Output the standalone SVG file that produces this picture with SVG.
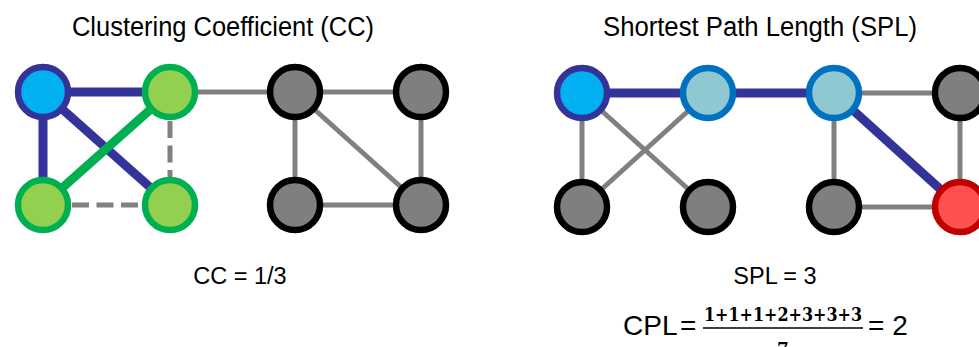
<svg xmlns="http://www.w3.org/2000/svg" width="979" height="347" viewBox="0 0 979 347">
<style>
text{font-family:"Liberation Sans",Arial,sans-serif;fill:#000}
.e{stroke:#808080;stroke-width:5;fill:none}
.d{stroke:#808080;stroke-width:5;fill:none;stroke-dasharray:17 7.5}
.tb{stroke:#333399;stroke-width:9;fill:none}
.tg{stroke:#00B050;stroke-width:9;fill:none}
circle{stroke-width:6.5}
.nb{fill:#00B0F0;stroke:#333399}
.ng{fill:#92D050;stroke:#00B050}
.nk{fill:#7F7F7F;stroke:#000}
.nl{fill:#8EC8D0;stroke:#0070C0}
.nr{fill:#FF5050;stroke:#C00000}
.m{font-family:"DejaVu Serif",serif}
</style>
<text x="223" y="36" font-size="27" text-anchor="middle" textLength="302" lengthAdjust="spacingAndGlyphs">Clustering Coefficient (CC)</text>
<text x="760" y="36" font-size="27" text-anchor="middle" textLength="314" lengthAdjust="spacingAndGlyphs">Shortest Path Length (SPL)</text>
<g id="connectors">
<line class="e" x1="170" y1="92" x2="295" y2="92"/>
<line class="e" x1="295" y1="92" x2="421" y2="92"/>
<line class="e" x1="295" y1="92" x2="295" y2="205"/>
<line class="e" x1="295" y1="92" x2="421" y2="205"/>
<line class="e" x1="421" y1="92" x2="421" y2="205"/>
<line class="e" x1="295" y1="205" x2="421" y2="205"/>
<line class="d" x1="72" y1="205" x2="142" y2="205"/>
<line class="d" x1="170" y1="121" x2="170" y2="177"/>
<line class="tb" x1="43" y1="92" x2="170" y2="92"/>
<line class="tb" x1="43" y1="92" x2="43" y2="205"/>
<line class="tb" x1="43" y1="92" x2="170" y2="205"/>
<line class="tg" x1="43" y1="205" x2="170" y2="92"/>
<line class="e" x1="582" y1="93" x2="582" y2="207"/>
<line class="e" x1="582" y1="93" x2="708" y2="207"/>
<line class="e" x1="708" y1="93" x2="582" y2="207"/>
<line class="e" x1="834" y1="93" x2="960" y2="93"/>
<line class="e" x1="834" y1="93" x2="834" y2="207"/>
<line class="e" x1="834" y1="207" x2="960" y2="207"/>
<line class="e" x1="960" y1="93" x2="960" y2="207"/>
<line class="tb" x1="582" y1="93" x2="834" y2="93"/>
<line class="tb" x1="834" y1="93" x2="960" y2="207"/>
</g>
<g id="cc-a"><circle class="nb" cx="43" cy="92" r="25"/></g>
<g id="cc-b"><circle class="ng" cx="170" cy="92" r="25"/></g>
<g id="cc-c"><circle class="ng" cx="43" cy="205" r="25"/></g>
<g id="cc-d"><circle class="ng" cx="170" cy="205" r="25"/></g>
<g id="cc-e"><circle class="nk" cx="295" cy="92" r="25"/></g>
<g id="cc-f"><circle class="nk" cx="421" cy="92" r="25"/></g>
<g id="cc-g"><circle class="nk" cx="295" cy="205" r="25"/></g>
<g id="cc-h"><circle class="nk" cx="421" cy="205" r="25"/></g>
<g id="spl-a"><circle class="nb" cx="582" cy="93" r="25"/></g>
<g id="spl-b"><circle class="nl" cx="708" cy="93" r="25"/></g>
<g id="spl-c"><circle class="nl" cx="834" cy="93" r="25"/></g>
<g id="spl-d"><circle class="nk" cx="960" cy="93" r="25"/></g>
<g id="spl-e"><circle class="nk" cx="582" cy="207" r="25"/></g>
<g id="spl-f"><circle class="nk" cx="708" cy="207" r="25"/></g>
<g id="spl-g"><circle class="nk" cx="834" cy="207" r="25"/></g>
<g id="spl-h"><circle class="nr" cx="960" cy="207" r="25"/></g>
<text x="240" y="284" font-size="23.5" text-anchor="middle">CC = 1/3</text>
<text x="775" y="284" font-size="23.5" text-anchor="middle">SPL = 3</text>
<text x="623" y="335" font-size="28">CPL</text>
<text x="680" y="335" font-size="28">=</text>
<text x="783" y="321" font-size="18" font-weight="600" text-anchor="middle" class="m" textLength="158" lengthAdjust="spacingAndGlyphs">1+1+1+2+3+3+3</text>
<line x1="703" y1="328" x2="863" y2="328" stroke="#000" stroke-width="1.5"/>
<text x="783" y="354" font-size="17" font-weight="600" text-anchor="middle" class="m">7</text>
<text x="868" y="335" font-size="28">= 2</text>
</svg>
